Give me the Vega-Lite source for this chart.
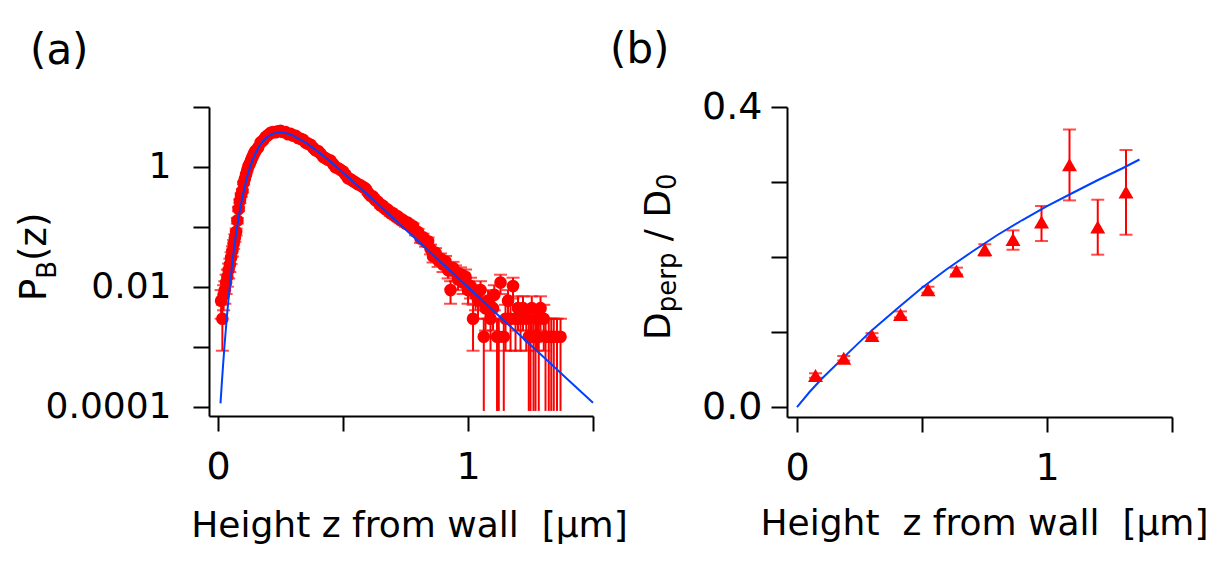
{
  "$schema": "https://vega.github.io/schema/vega-lite/v6.json",
  "padding": {"left": 16, "top": 29, "right": 5, "bottom": 5},
  "spacing": 194,
  "bounds": "flush",
  "config": {
    "view": {"stroke": null},
    "font": "DejaVu Sans",
    "axis": {"grid": false, "domainColor": "black", "domainWidth": 2, "tickColor": "black", "tickWidth": 2, "labelColor": "black", "titleColor": "black", "labelFont": "DejaVu Sans", "titleFont": "DejaVu Sans", "titleFontWeight": "normal", "labelFlush": false, "labelOverlap": false},
    "title": {"font": "DejaVu Sans", "fontWeight": "normal", "fontSize": 42, "color": "black"}
  },
  "datasets": {
    "pa": [
      {"z":0.012,"p":0.00592,"lo":0.00296,"hi":0.00888},
      {"z":0.017,"p":0.00296,"lo":0.000867,"hi":0.00505},
      {"z":0.022,"p":0.0074,"lo":0.00409,"hi":0.01071},
      {"z":0.027,"p":0.00888,"lo":0.00526,"hi":0.0125},
      {"z":0.032,"p":0.01184,"lo":0.00765,"hi":0.01603},
      {"z":0.037,"p":0.0148,"lo":0.01012,"hi":0.01948},
      {"z":0.042,"p":0.01924,"lo":0.0139,"hi":0.02458},
      {"z":0.047,"p":0.02368,"lo":0.01776,"hi":0.0296},
      {"z":0.052,"p":0.0311,"lo":0.0243,"hi":0.03786},
      {"z":0.057,"p":0.040,"lo":0.03227,"hi":0.04765},
      {"z":0.062,"p":0.052,"lo":0.0432,"hi":0.0608},
      {"z":0.067,"p":0.066,"lo":0.0561,"hi":0.0759},
      {"z":0.072,"p":0.083,"lo":0.0719,"hi":0.0941},
      {"z":0.077,"p":0.128,"lo":0.1142,"hi":0.1418},
      {"z":0.082,"p":0.20,"lo":0.1828,"hi":0.2172},
      {"z":0.087,"p":0.27,"lo":0.25,"hi":0.29},
      {"z":0.092,"p":0.34,"lo":0.3176,"hi":0.3624},
      {"z":0.097,"p":0.40,"lo":0.3757,"hi":0.4243},
      {"z":0.102,"p":0.54,"lo":0.5117,"hi":0.5683},
      {"z":0.107,"p":0.64},
      {"z":0.112,"p":0.76},
      {"z":0.117,"p":0.90},
      {"z":0.122,"p":1.04},
      {"z":0.127,"p":1.15},
      {"z":0.132,"p":1.30},
      {"z":0.137,"p":1.45},
      {"z":0.142,"p":1.62},
      {"z":0.147,"p":1.78},
      {"z":0.15,"p":1.862},
      {"z":0.16,"p":2.104},
      {"z":0.17,"p":2.570},
      {"z":0.18,"p":2.780},
      {"z":0.19,"p":3.151},
      {"z":0.20,"p":3.412},
      {"z":0.21,"p":3.702},
      {"z":0.22,"p":3.819},
      {"z":0.23,"p":3.802},
      {"z":0.24,"p":3.945},
      {"z":0.25,"p":4.0},
      {"z":0.26,"p":3.837},
      {"z":0.27,"p":3.811},
      {"z":0.28,"p":3.508},
      {"z":0.29,"p":3.556},
      {"z":0.30,"p":3.342},
      {"z":0.31,"p":3.311},
      {"z":0.32,"p":3.041},
      {"z":0.33,"p":2.951},
      {"z":0.34,"p":2.844},
      {"z":0.35,"p":2.553},
      {"z":0.36,"p":2.449},
      {"z":0.37,"p":2.344},
      {"z":0.38,"p":2.089},
      {"z":0.39,"p":1.897},
      {"z":0.40,"p":1.845},
      {"z":0.41,"p":1.671},
      {"z":0.42,"p":1.479},
      {"z":0.43,"p":1.396},
      {"z":0.44,"p":1.321},
      {"z":0.45,"p":1.276},
      {"z":0.46,"p":1.122},
      {"z":0.47,"p":0.989},
      {"z":0.48,"p":0.952},
      {"z":0.49,"p":0.895},
      {"z":0.50,"p":0.841},
      {"z":0.51,"p":0.740},
      {"z":0.52,"p":0.649},
      {"z":0.53,"p":0.623},
      {"z":0.54,"p":0.585,"lo":0.5556,"hi":0.6144},
      {"z":0.55,"p":0.550,"lo":0.5215,"hi":0.5785},
      {"z":0.56,"p":0.515,"lo":0.4874,"hi":0.5426},
      {"z":0.57,"p":0.494,"lo":0.467,"hi":0.521},
      {"z":0.58,"p":0.464,"lo":0.4378,"hi":0.4902},
      {"z":0.59,"p":0.436,"lo":0.4106,"hi":0.4614},
      {"z":0.60,"p":0.372,"lo":0.3485,"hi":0.3955},
      {"z":0.61,"p":0.333,"lo":0.3108,"hi":0.3552},
      {"z":0.62,"p":0.320,"lo":0.2982,"hi":0.3418},
      {"z":0.63,"p":0.2795,"lo":0.2592,"hi":0.2998},
      {"z":0.64,"p":0.262,"lo":0.2423,"hi":0.2817},
      {"z":0.65,"p":0.229,"lo":0.2106,"hi":0.2474},
      {"z":0.66,"p":0.2249,"lo":0.2067,"hi":0.2431},
      {"z":0.67,"p":0.1968,"lo":0.1797,"hi":0.2139},
      {"z":0.68,"p":0.1928,"lo":0.1759,"hi":0.2097},
      {"z":0.69,"p":0.1687,"lo":0.1529,"hi":0.1845},
      {"z":0.70,"p":0.1694,"lo":0.1536,"hi":0.1852},
      {"z":0.71,"p":0.1483,"lo":0.1335,"hi":0.1631},
      {"z":0.72,"p":0.1486,"lo":0.1338,"hi":0.1634},
      {"z":0.73,"p":0.130,"lo":0.1161,"hi":0.1439},
      {"z":0.74,"p":0.1303,"lo":0.1164,"hi":0.1442},
      {"z":0.75,"p":0.114,"lo":0.101,"hi":0.127},
      {"z":0.76,"p":0.117,"lo":0.1038,"hi":0.1302},
      {"z":0.77,"p":0.1047,"lo":0.0923,"hi":0.1172},
      {"z":0.78,"p":0.1026,"lo":0.0903,"hi":0.1149},
      {"z":0.79,"p":0.0838,"lo":0.0727,"hi":0.0949},
      {"z":0.80,"p":0.0822,"lo":0.0712,"hi":0.0932},
      {"z":0.81,"p":0.064,"lo":0.0543,"hi":0.0737},
      {"z":0.82,"p":0.0673,"lo":0.0573,"hi":0.0773},
      {"z":0.83,"p":0.0561,"lo":0.047,"hi":0.0652},
      {"z":0.84,"p":0.0577,"lo":0.0485,"hi":0.0669},
      {"z":0.85,"p":0.043,"lo":0.035,"hi":0.051},
      {"z":0.86,"p":0.03256,"lo":0.02562,"hi":0.0395},
      {"z":0.87,"p":0.037,"lo":0.0296,"hi":0.0444},
      {"z":0.88,"p":0.02812,"lo":0.02167,"hi":0.03457},
      {"z":0.89,"p":0.0296,"lo":0.02298,"hi":0.03622},
      {"z":0.90,"p":0.02368,"lo":0.01776,"hi":0.0296},
      {"z":0.91,"p":0.02664,"lo":0.02036,"hi":0.03292},
      {"z":0.92,"p":0.01924,"lo":0.0139,"hi":0.02458},
      {"z":0.93,"p":0.00888,"lo":0.00526,"hi":0.0125},
      {"z":0.94,"p":0.02072,"lo":0.01518,"hi":0.02626},
      {"z":0.95,"p":0.01776,"lo":0.01263,"hi":0.02289},
      {"z":0.96,"p":0.01332,"lo":0.00888,"hi":0.01776},
      {"z":0.97,"p":0.01628,"lo":0.01137,"hi":0.02119},
      {"z":0.98,"p":0.01184,"lo":0.00765,"hi":0.01603},
      {"z":0.99,"p":0.0148,"lo":0.01012,"hi":0.01948},
      {"z":1.00,"p":0.00888,"lo":0.00526,"hi":0.0125},
      {"z":1.01,"p":0.01036,"lo":0.00644,"hi":0.01428},
      {"z":1.02,"p":0.00296,"lo":0.000867,"hi":0.00505},
      {"z":1.03,"p":0.0074,"lo":0.00409,"hi":0.01071},
      {"z":1.04,"p":0.00592,"lo":0.00296,"hi":0.00888},
      {"z":1.05,"p":0.00888,"lo":0.00526,"hi":0.0125},
      {"z":1.063,"p":0.00148,"lo":0.000086,"hi":0.00296},
      {"z":1.07,"p":0.00444,"lo":0.00188,"hi":0.0070},
      {"z":1.08,"p":0.00592,"lo":0.00296,"hi":0.00888},
      {"z":1.09,"p":0.00296,"lo":0.000867,"hi":0.00505},
      {"z":1.10,"p":0.00444,"lo":0.00188,"hi":0.0070},
      {"z":1.105,"p":0.0074,"lo":0.00409,"hi":0.01071},
      {"z":1.116,"p":0.00148,"lo":0.000086,"hi":0.00296},
      {"z":1.123,"p":0.00148,"lo":0.000086,"hi":0.00296},
      {"z":1.13,"p":0.01184,"lo":0.00765,"hi":0.01603},
      {"z":1.143,"p":0.00148,"lo":0.000086,"hi":0.00296},
      {"z":1.15,"p":0.00296,"lo":0.000867,"hi":0.00505},
      {"z":1.16,"p":0.00592,"lo":0.00296,"hi":0.00888},
      {"z":1.17,"p":0.00296,"lo":0.000867,"hi":0.00505},
      {"z":1.18,"p":0.01036,"lo":0.00644,"hi":0.01428},
      {"z":1.19,"p":0.00296,"lo":0.000867,"hi":0.00505},
      {"z":1.20,"p":0.00444,"lo":0.00188,"hi":0.0070},
      {"z":1.21,"p":0.00296,"lo":0.000867,"hi":0.00505},
      {"z":1.22,"p":0.00444,"lo":0.00188,"hi":0.0070},
      {"z":1.233,"p":0.00296,"lo":0.000867,"hi":0.00505},
      {"z":1.243,"p":0.00148,"lo":0.000086,"hi":0.00296},
      {"z":1.25,"p":0.00148,"lo":0.000086,"hi":0.00296},
      {"z":1.255,"p":0.00444,"lo":0.00188,"hi":0.0070},
      {"z":1.262,"p":0.00148,"lo":0.000086,"hi":0.00296},
      {"z":1.27,"p":0.00148,"lo":0.000086,"hi":0.00296},
      {"z":1.276,"p":0.00296,"lo":0.000867,"hi":0.00505},
      {"z":1.283,"p":0.00148,"lo":0.000086,"hi":0.00296},
      {"z":1.29,"p":0.00444,"lo":0.00188,"hi":0.0070},
      {"z":1.303,"p":0.00296,"lo":0.000867,"hi":0.00505},
      {"z":1.31,"p":0.00148,"lo":0.000086,"hi":0.00296},
      {"z":1.323,"p":0.00148,"lo":0.000086,"hi":0.00296},
      {"z":1.333,"p":0.00148,"lo":0.000086,"hi":0.00296},
      {"z":1.343,"p":0.00148,"lo":0.000086,"hi":0.00296},
      {"z":1.356,"p":0.00148,"lo":0.000086,"hi":0.00296},
      {"z":1.37,"p":0.00148,"lo":0.000086,"hi":0.00296}
    ],
    "ca": [
      {"z":0.0095,"p":0.000115},
      {"z":0.015,"p":0.000257},
      {"z":0.02,"p":0.000513},
      {"z":0.025,"p":0.00098},
      {"z":0.03,"p":0.00178},
      {"z":0.035,"p":0.00315},
      {"z":0.04,"p":0.00537},
      {"z":0.045,"p":0.00879},
      {"z":0.05,"p":0.0139},
      {"z":0.055,"p":0.0216},
      {"z":0.06,"p":0.0324},
      {"z":0.065,"p":0.0473},
      {"z":0.07,"p":0.0676},
      {"z":0.08,"p":0.127},
      {"z":0.09,"p":0.221},
      {"z":0.10,"p":0.359},
      {"z":0.11,"p":0.5428},
      {"z":0.12,"p":0.776},
      {"z":0.13,"p":1.056},
      {"z":0.14,"p":1.368},
      {"z":0.15,"p":1.708},
      {"z":0.16,"p":2.056},
      {"z":0.17,"p":2.396},
      {"z":0.18,"p":2.716},
      {"z":0.20,"p":3.258},
      {"z":0.22,"p":3.606},
      {"z":0.24,"p":3.767},
      {"z":0.26,"p":3.750},
      {"z":0.28,"p":3.589},
      {"z":0.30,"p":3.342},
      {"z":0.35,"p":2.556},
      {"z":0.40,"p":1.803},
      {"z":0.45,"p":1.219},
      {"z":0.50,"p":0.804},
      {"z":0.60,"p":0.340},
      {"z":0.70,"p":0.141},
      {"z":0.80,"p":0.0582},
      {"z":0.90,"p":0.024},
      {"z":1.00,"p":0.00989},
      {"z":1.10,"p":0.00407},
      {"z":1.20,"p":0.00168},
      {"z":1.30,"p":0.000692},
      {"z":1.40,"p":0.000285},
      {"z":1.50,"p":0.0001175}
    ],
    "pb": [
      {"z":0.074,"d":0.042,"lo":0.039,"hi":0.045},
      {"z":0.187,"d":0.065,"lo":0.062,"hi":0.068},
      {"z":0.300,"d":0.0955,"lo":0.0925,"hi":0.0985},
      {"z":0.414,"d":0.1235,"lo":0.1195,"hi":0.1275},
      {"z":0.524,"d":0.1564,"lo":0.1524,"hi":0.1604},
      {"z":0.638,"d":0.1813,"lo":0.1768,"hi":0.1858},
      {"z":0.751,"d":0.210,"lo":0.2017,"hi":0.217},
      {"z":0.864,"d":0.2235,"lo":0.2097,"hi":0.2355},
      {"z":0.978,"d":0.2467,"lo":0.2213,"hi":0.268},
      {"z":1.090,"d":0.323,"lo":0.2755,"hi":0.370},
      {"z":1.203,"d":0.240,"lo":0.2031,"hi":0.2764},
      {"z":1.316,"d":0.2867,"lo":0.2297,"hi":0.3427}
    ],
    "cb": [
      {"z":0,"d":0},
      {"z":0.05,"d":0.02},
      {"z":0.1,"d":0.038},
      {"z":0.2,"d":0.0705},
      {"z":0.3,"d":0.1025},
      {"z":0.4,"d":0.131},
      {"z":0.5,"d":0.159},
      {"z":0.6,"d":0.184},
      {"z":0.7,"d":0.207},
      {"z":0.8,"d":0.229},
      {"z":0.9,"d":0.249},
      {"z":1.0,"d":0.268},
      {"z":1.1,"d":0.285},
      {"z":1.2,"d":0.302},
      {"z":1.3,"d":0.318},
      {"z":1.37,"d":0.330}
    ]
  },
  "hconcat": [
    {
      "width": 384,
      "height": 309,
      "title": {"text": "(a)", "anchor": "start", "frame": "group", "fontSize": 42, "dx": -179, "offset": -26, "baseline": "bottom"},
      "layer": [
        {
          "data": {"name": "pa"},
          "transform": [{"filter": "isValid(datum.hi)"}],
          "mark": {"type": "rule", "color": "#ff0000", "strokeWidth": 2},
          "encoding": {
            "x": {"field": "z", "type": "quantitative", "scale": {"domain": [-0.0365, 1.5], "nice": false, "zero": false},
              "axis": {"values": [0, 0.5, 1, 1.5], "labelExpr": "datum.value == 0 ? '0' : datum.value == 1 ? '1' : ''", "tickSize": 15, "labelFontSize": 38, "labelPadding": 17, "title": "Height z from wall\u00a0 [µm]", "titleFontSize": 36, "titleX": 200, "titleY": 120, "titleBaseline": "alphabetic"}},
            "y": {"field": "lo", "type": "quantitative", "scale": {"type": "log", "domain": [0.00007079, 10], "nice": false},
              "axis": {"values": [0.0001, 0.001, 0.01, 0.1, 1, 10], "labelExpr": "datum.value == 1 ? '1' : datum.value == 0.01 ? '0.01' : datum.value == 0.0001 ? '0.0001' : ''", "tickSize": 16, "labelFontSize": 36, "labelPadding": 22, "title": null}},
            "y2": {"field": "hi"}
          }
        },
        {
          "data": {"name": "pa"},
          "transform": [{"filter": "isValid(datum.hi)"}],
          "mark": {"type": "tick", "orient": "horizontal", "color": "#ff0000", "size": 13, "thickness": 2},
          "encoding": {
            "x": {"field": "z", "type": "quantitative", "scale": {"domain": [-0.0365, 1.5], "nice": false, "zero": false}},
            "y": {"field": "hi", "type": "quantitative", "scale": {"type": "log", "domain": [0.00007079, 10], "nice": false}}
          }
        },
        {
          "data": {"name": "pa"},
          "transform": [{"filter": "isValid(datum.lo) && datum.lo > 0.0001"}],
          "mark": {"type": "tick", "orient": "horizontal", "color": "#ff0000", "size": 13, "thickness": 2},
          "encoding": {
            "x": {"field": "z", "type": "quantitative", "scale": {"domain": [-0.0365, 1.5], "nice": false, "zero": false}},
            "y": {"field": "lo", "type": "quantitative", "scale": {"type": "log", "domain": [0.00007079, 10], "nice": false}}
          }
        },
        {
          "data": {"name": "pa"},
          "mark": {"type": "point", "shape": "circle", "filled": true, "size": 160, "color": "#ff0000", "opacity": 1},
          "encoding": {
            "x": {"field": "z", "type": "quantitative", "scale": {"domain": [-0.0365, 1.5], "nice": false, "zero": false}},
            "y": {"field": "p", "type": "quantitative", "scale": {"type": "log", "domain": [0.00007079, 10], "nice": false}}
          }
        },
        {
          "data": {"name": "ca"},
          "mark": {"type": "line", "color": "#0040ff", "strokeWidth": 2},
          "encoding": {
            "x": {"field": "z", "type": "quantitative", "scale": {"domain": [-0.0365, 1.5], "nice": false, "zero": false}},
            "y": {"field": "p", "type": "quantitative", "scale": {"type": "log", "domain": [0.00007079, 10], "nice": false}}
          }
        },
        {
          "data": {"values": [{}]},
          "mark": {"type": "text", "angle": 270, "align": "left", "baseline": "alphabetic", "fontSize": 37, "font": "DejaVu Sans", "color": "black"},
          "encoding": {"x": {"datum": -0.6869, "type": "quantitative"}, "y": {"datum": 0.005844, "type": "quantitative"}, "text": {"value": "P"}}
        },
        {
          "data": {"values": [{}]},
          "mark": {"type": "text", "angle": 270, "align": "left", "baseline": "alphabetic", "fontSize": 26, "font": "DejaVu Sans", "color": "black"},
          "encoding": {"x": {"datum": -0.6473, "type": "quantitative"}, "y": {"datum": 0.013747, "type": "quantitative"}, "text": {"value": "B"}}
        },
        {
          "data": {"values": [{}]},
          "mark": {"type": "text", "angle": 270, "align": "left", "baseline": "alphabetic", "fontSize": 37, "font": "DejaVu Sans", "color": "black"},
          "encoding": {"x": {"datum": -0.6869, "type": "quantitative"}, "y": {"datum": 0.027227, "type": "quantitative"}, "text": {"value": "(z)"}}
        }
      ]
    },
    {
      "width": 385,
      "height": 310,
      "title": {"text": "(b)", "anchor": "start", "frame": "group", "fontSize": 42, "dx": -177, "offset": -26, "baseline": "bottom"},
      "layer": [
        {
          "data": {"name": "pb"},
          "mark": {"type": "rule", "color": "#ff0000", "strokeWidth": 2},
          "encoding": {
            "x": {"field": "z", "type": "quantitative", "scale": {"domain": [-0.04, 1.5], "nice": false, "zero": false},
              "axis": {"values": [0, 0.5, 1, 1.5], "labelExpr": "datum.value == 0 ? '0' : datum.value == 1 ? '1' : ''", "tickSize": 15, "labelFontSize": 38, "labelPadding": 17, "title": "Height\u00a0 z from wall\u00a0 [µm]", "titleFontSize": 36, "titleX": 197, "titleY": 117, "titleBaseline": "alphabetic"}},
            "y": {"field": "lo", "type": "quantitative", "scale": {"domain": [-0.0133, 0.4], "nice": false, "zero": false},
              "axis": {"values": [0, 0.1, 0.2, 0.3, 0.4], "labelExpr": "datum.value == 0 ? '0.0' : datum.value == 0.4 ? '0.4' : ''", "tickSize": 16, "labelFontSize": 38, "labelPadding": 9, "title": null}},
            "y2": {"field": "hi"}
          }
        },
        {
          "data": {"name": "pb"},
          "mark": {"type": "tick", "orient": "horizontal", "color": "#ff0000", "size": 13, "thickness": 2},
          "encoding": {
            "x": {"field": "z", "type": "quantitative", "scale": {"domain": [-0.04, 1.5], "nice": false, "zero": false}},
            "y": {"field": "hi", "type": "quantitative", "scale": {"domain": [-0.0133, 0.4], "nice": false, "zero": false}}
          }
        },
        {
          "data": {"name": "pb"},
          "mark": {"type": "tick", "orient": "horizontal", "color": "#ff0000", "size": 13, "thickness": 2},
          "encoding": {
            "x": {"field": "z", "type": "quantitative", "scale": {"domain": [-0.04, 1.5], "nice": false, "zero": false}},
            "y": {"field": "lo", "type": "quantitative", "scale": {"domain": [-0.0133, 0.4], "nice": false, "zero": false}}
          }
        },
        {
          "data": {"name": "cb"},
          "mark": {"type": "line", "color": "#0040ff", "strokeWidth": 2},
          "encoding": {
            "x": {"field": "z", "type": "quantitative", "scale": {"domain": [-0.04, 1.5], "nice": false, "zero": false}},
            "y": {"field": "d", "type": "quantitative", "scale": {"domain": [-0.0133, 0.4], "nice": false, "zero": false}}
          }
        },
        {
          "data": {"name": "pb"},
          "mark": {"type": "point", "shape": "triangle-up", "filled": true, "size": 225, "color": "#ff0000", "opacity": 1},
          "encoding": {
            "x": {"field": "z", "type": "quantitative", "scale": {"domain": [-0.04, 1.5], "nice": false, "zero": false}},
            "y": {"field": "d", "type": "quantitative", "scale": {"domain": [-0.0133, 0.4], "nice": false, "zero": false}}
          }
        },
        {
          "data": {"values": [{}]},
          "mark": {"type": "text", "angle": 270, "align": "left", "baseline": "alphabetic", "fontSize": 36, "font": "DejaVu Sans", "color": "black"},
          "encoding": {"x": {"datum": -0.5064, "type": "quantitative"}, "y": {"datum": 0.0893, "type": "quantitative"}, "text": {"value": "D"}}
        },
        {
          "data": {"values": [{}]},
          "mark": {"type": "text", "angle": 270, "align": "left", "baseline": "alphabetic", "fontSize": 26, "font": "DejaVu Sans", "color": "black"},
          "encoding": {"x": {"datum": -0.4852, "type": "quantitative"}, "y": {"datum": 0.1263, "type": "quantitative"}, "text": {"value": "perp"}}
        },
        {
          "data": {"values": [{}]},
          "mark": {"type": "text", "angle": 270, "align": "left", "baseline": "alphabetic", "fontSize": 36, "font": "DejaVu Sans", "color": "black"},
          "encoding": {"x": {"datum": -0.5064, "type": "quantitative"}, "y": {"datum": 0.2211, "type": "quantitative"}, "text": {"value": "/ D"}}
        },
        {
          "data": {"values": [{}]},
          "mark": {"type": "text", "angle": 270, "align": "left", "baseline": "alphabetic", "fontSize": 26, "font": "DejaVu Sans", "color": "black"},
          "encoding": {"x": {"datum": -0.4852, "type": "quantitative"}, "y": {"datum": 0.2895, "type": "quantitative"}, "text": {"value": "0"}}
        }
      ]
    }
  ]
}
